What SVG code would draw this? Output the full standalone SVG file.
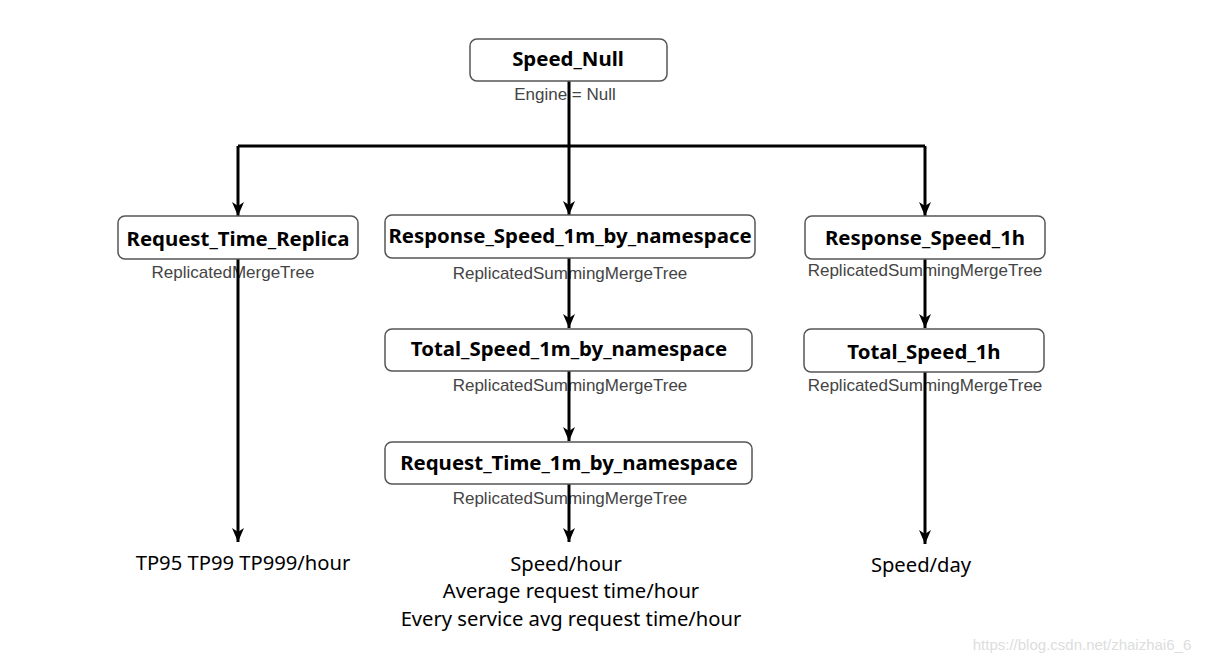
<svg xmlns="http://www.w3.org/2000/svg" width="1207" height="664" viewBox="0 0 1207 664">
<defs>
<marker id="ah" viewBox="0 0 14 12" refX="14" refY="6" markerWidth="14" markerHeight="12" markerUnits="userSpaceOnUse" orient="auto">
<path d="M0,0 L14,6 L0,12 L4,6 Z" fill="#000"/>
</marker>
</defs>
<style>
.box{fill:#fff;stroke:#555;stroke-width:1.5}
.t{font-family:"Noto Sans","Open Sans",sans-serif;font-weight:bold;font-size:20.4px;fill:#000;text-anchor:middle}
.e{font-family:"Liberation Sans",Arial,sans-serif;font-size:17px;fill:#444;text-anchor:middle}
.o{font-family:"Noto Sans","Open Sans",sans-serif;font-size:20.2px;fill:#000;text-anchor:middle}
.c{fill:none;stroke:#000;stroke-width:3}
.a{fill:none;stroke:#000;stroke-width:3;marker-end:url(#ah)}
</style>
<rect width="1207" height="664" fill="#fff"/>
<g id="labels">
<text class="e" x="565" y="100">Engine = Null</text>
<text class="e" x="233" y="278">ReplicatedMergeTree</text>
<text class="e" x="570" y="279">ReplicatedSummingMergeTree</text>
<text class="e" x="570" y="391">ReplicatedSummingMergeTree</text>
<text class="e" x="570" y="504">ReplicatedSummingMergeTree</text>
<text class="e" x="925" y="276">ReplicatedSummingMergeTree</text>
<text class="e" x="925" y="391">ReplicatedSummingMergeTree</text>
</g>
<g id="connectors">
<path class="c" d="M569,81 V146"/>
<path class="c" d="M238,146 H925"/>
<path class="a" d="M238,146 V216"/>
<path class="a" d="M569,146 V215"/>
<path class="a" d="M925,146 V216"/>
<path class="a" d="M238,259 V542"/>
<path class="a" d="M569,258 V328"/>
<path class="a" d="M569,371 V441"/>
<path class="a" d="M569,484 V542"/>
<path class="a" d="M925,259 V328"/>
<path class="a" d="M925,372 V544"/>
</g>
<g id="speed_null">
<rect class="box" x="470" y="39" width="197" height="42" rx="7"/>
<text class="t" x="568" y="66">Speed_Null</text>
</g>
<g id="request_time_replica">
<rect class="box" x="118" y="216" width="240" height="43" rx="7"/>
<text class="t" x="238" y="246">Request_Time_Replica</text>
</g>
<g id="response_speed_1m">
<rect class="box" x="385" y="215" width="370" height="43" rx="7"/>
<text class="t" x="570" y="243">Response_Speed_1m_by_namespace</text>
</g>
<g id="total_speed_1m">
<rect class="box" x="385" y="329" width="367" height="42" rx="7"/>
<text class="t" x="569" y="356">Total_Speed_1m_by_namespace</text>
</g>
<g id="request_time_1m">
<rect class="box" x="385" y="442" width="367" height="42" rx="7"/>
<text class="t" x="569" y="470">Request_Time_1m_by_namespace</text>
</g>
<g id="response_speed_1h">
<rect class="box" x="805" y="216" width="240" height="43" rx="7"/>
<text class="t" x="925" y="245">Response_Speed_1h</text>
</g>
<g id="total_speed_1h">
<rect class="box" x="804" y="329" width="240" height="43" rx="7"/>
<text class="t" x="924" y="359">Total_Speed_1h</text>
</g>
<g id="outputs">
<text class="o" x="243" y="570">TP95 TP99 TP999/hour</text>
<text class="o" x="566" y="571">Speed/hour</text>
<text class="o" x="571" y="598">Average request time/hour</text>
<text class="o" x="571" y="626">Every service avg request time/hour</text>
<text class="o" x="921" y="572">Speed/day</text>
</g>
<text x="1082" y="650" font-family="Liberation Sans,Arial,sans-serif" font-size="15" fill="#ddd" text-anchor="middle">https://blog.csdn.net/zhaizhai6_6</text>
</svg>
